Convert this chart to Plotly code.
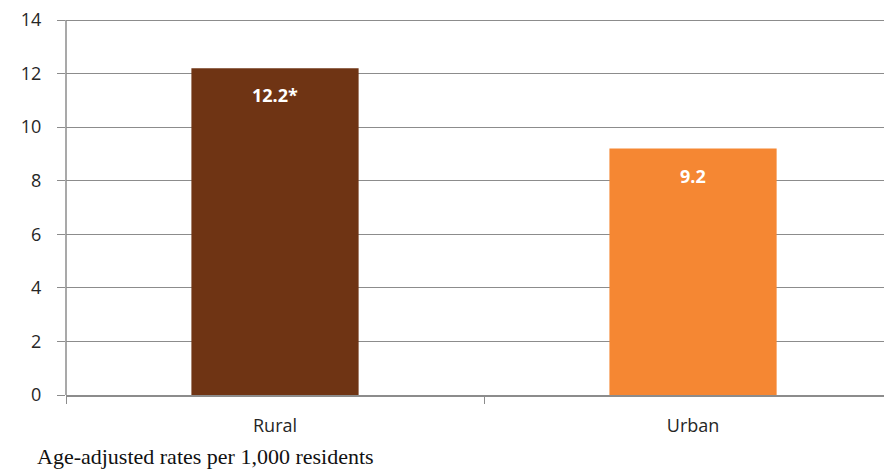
import plotly.graph_objects as go

categories = ["Rural", "Urban"]
values = [12.2, 9.2]
labels = ["12.2*", "9.2"]
colors = ["#6F3414", "#F58733"]
y_ticks = [0, 2, 4, 6, 8, 10, 12, 14]
caption = "Age-adjusted rates per 1,000 residents"

fig = go.Figure()
fig.add_trace(go.Bar(x=categories, y=values, marker=dict(color=colors, line=dict(width=0)),
                     width=0.4, hoverinfo="skip"))

for c, v, t in zip(categories, values, labels):
    fig.add_annotation(x=c, y=v, text="<b>%s</b>" % t, showarrow=False, yanchor="top",
                       yshift=-13, font=dict(family="Open Sans, Liberation Sans, sans-serif",
                                             size=18, color="white"))

fig.add_annotation(xref="paper", yref="paper", x=-0.0375, y=-0.161, xanchor="left", yanchor="middle",
                   text=caption, showarrow=False,
                   font=dict(family="Liberation Serif, DejaVu Serif, serif", size=22, color="#111"))

fig.update_layout(
    width=884, height=463,
    margin=dict(l=58, r=0, t=4, b=76, autoexpand=False),
    plot_bgcolor="white", paper_bgcolor="white",
    showlegend=False,
    font=dict(family="Open Sans, Liberation Sans, sans-serif", size=18, color="#262626"),
    xaxis=dict(range=[-0.5, 1.476], showgrid=False, showline=True, linecolor="#8c8c8c",
               linewidth=1.5, ticks="outside", tickson="boundaries", ticklen=7,
               tickcolor="#8c8c8c", ticklabelstandoff=14, tickfont=dict(size=18),
               automargin=False),
    yaxis=dict(range=[0, 14.3], tickvals=y_ticks, showgrid=True, gridcolor="#8c8c8c",
               gridwidth=1, showline=False, linecolor="#8c8c8c", linewidth=1.5,
               ticks="outside", ticklen=8, tickcolor="#8c8c8c", ticklabelstandoff=12,
               ticklabeloverflow="allow",
               zeroline=False, tickfont=dict(size=18), automargin=False),
)
# vertical axis line from 0 to 14 only
fig.add_shape(type="line", xref="paper", yref="y", x0=0, x1=0, y0=0, y1=y_ticks[-1],
              line=dict(color="#8c8c8c", width=1.5))

fig.write_html("out.html")
